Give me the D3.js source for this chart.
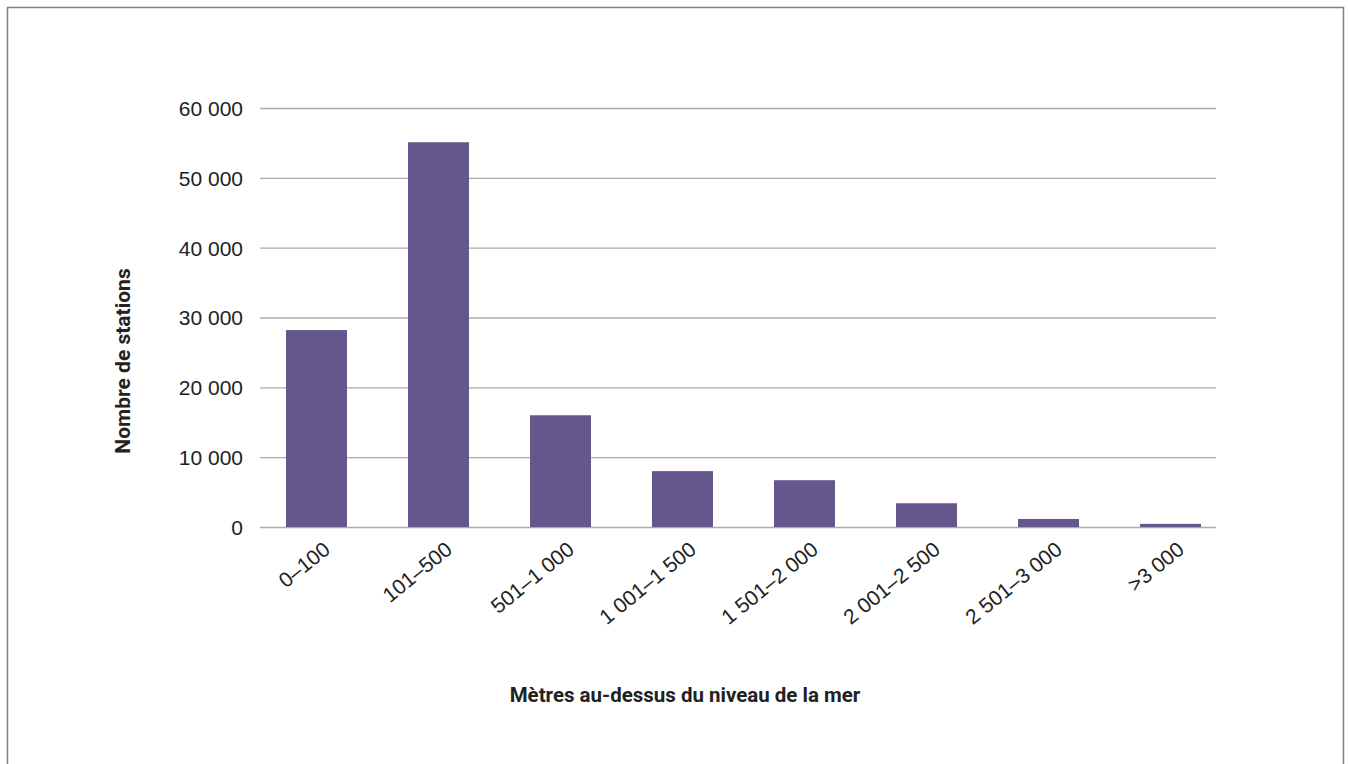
<!DOCTYPE html>
<html><head><meta charset="utf-8">
<script src="https://cdn.jsdelivr.net/npm/d3@7"></script>
<style>
html,body{margin:0;padding:0;background:#fff;}
svg{display:block;font-family:Roboto,"Noto Sans",sans-serif;}
</style></head>
<body><svg id="c" width="1348" height="764"></svg>
<script>
const categories = ["0–100","101–500","501–1 000","1 001–1 500","1 501–2 000","2 001–2 500","2 501–3 000",">3 000"];
const stations = [28200, 55100, 16000, 8000, 6700, 3400, 1150, 450];
const yTicks = [0, 10000, 20000, 30000, 40000, 50000, 60000];
const yTickLabels = ["0","10 000","20 000","30 000","40 000","50 000","60 000"];
const xTitle = "Mètres au-dessus du niveau de la mer";
const yTitle = "Nombre de stations";

const svg = d3.select("#c");
svg.append("rect").attr("x",7.5).attr("y",7.5).attr("width",1336).attr("height",800)
  .attr("fill","#fff").attr("stroke","#7f7f7f").attr("stroke-width",1.5);

const gridX0 = 260, gridX1 = 1216;
const y = d3.scaleLinear().domain([0,60000]).range([527,108]);
const x = d3.scaleBand().domain(categories).range([255.5,1231.5]).paddingInner(0.5).paddingOuter(0.25);

// gridlines
const yAxis = d3.axisLeft(y).tickValues(yTicks).tickSize(-(gridX1-gridX0)).tickPadding(17)
  .tickFormat((d,i)=>yTickLabels[i]);
const gy = svg.append("g").attr("transform",`translate(${gridX0},0)`).call(yAxis);
gy.select(".domain").remove();
gy.selectAll(".tick line").attr("stroke","#ababab").attr("stroke-width",1.3);
gy.selectAll(".tick text").attr("fill","#222").style("font-size","21px").attr("dy","0.35em");

// bars
svg.append("g").selectAll("rect").data(stations).join("rect")
  .attr("x",(d,i)=>x(categories[i]))
  .attr("width",x.bandwidth())
  .attr("y",d=>y(d))
  .attr("height",d=>y(0)-y(d))
  .attr("fill","#65568c");

// x axis labels
const xAxis = d3.axisBottom(x).tickSize(0).tickPadding(0);
const gx = svg.append("g").attr("transform","translate(0,527)").call(xAxis);
gx.select(".domain").remove();
gx.selectAll(".tick text")
  .attr("fill","#222").style("font-size","21px")
  .attr("text-anchor","end")
  .attr("dy",0).attr("y",0)
  .attr("transform","translate(15,25) rotate(-39)");

// axis titles
svg.append("text").attr("x",685).attr("y",702).attr("text-anchor","middle")
  .attr("fill","#222").style("font-size","20.5px").style("font-weight","bold").text(xTitle);
svg.append("text").attr("transform","translate(130,361) rotate(-90)").attr("text-anchor","middle")
  .attr("fill","#222").style("font-size","21px").style("font-weight","bold").text(yTitle);
</script></body></html>
